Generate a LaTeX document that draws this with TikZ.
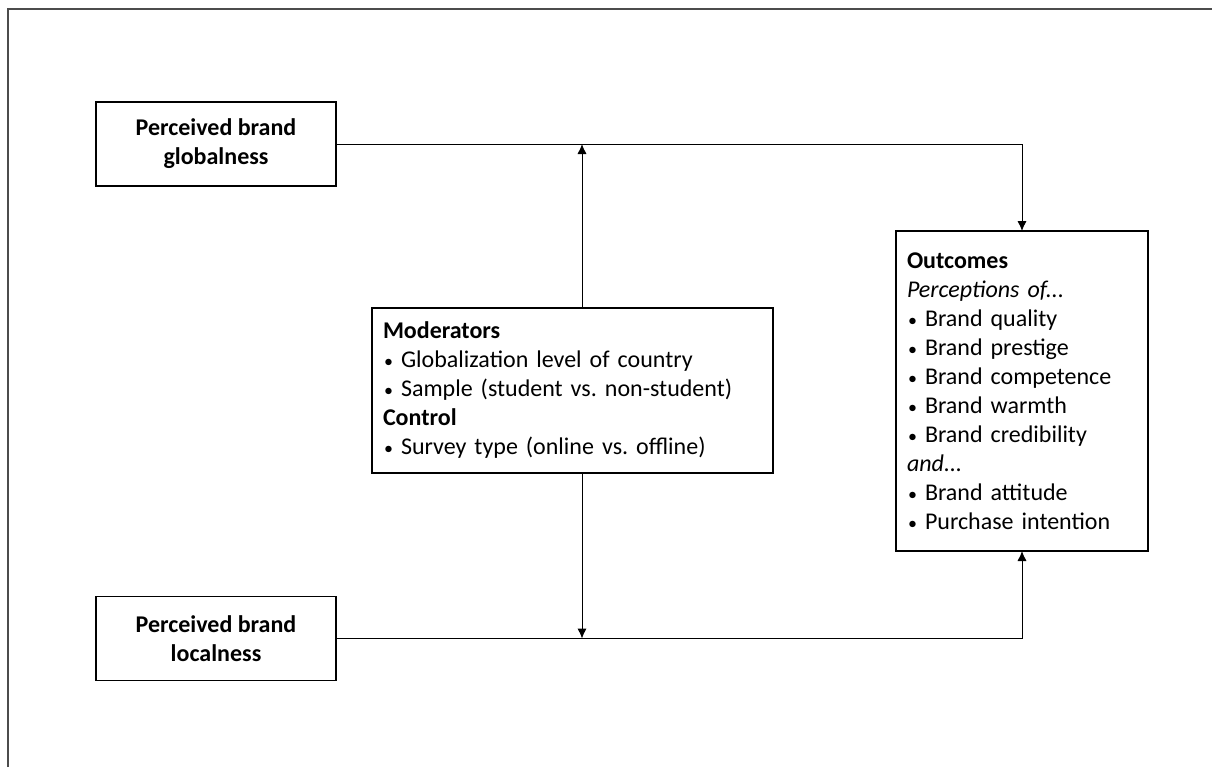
\documentclass[tikz,border=0pt]{standalone}
\usepackage{fontspec}
\setmainfont{Carlito}
\usetikzlibrary{arrows.meta}
\newcommand{\bul}{\makebox[9pt][l]{\hspace{0.6pt}\scalebox{0.75}{\textbullet}}}
\frenchspacing

\begin{document}
\begin{tikzpicture}[x=0.5pt, y=-0.5pt,
  every node/.style={font=\fontsize{12}{14.5}\selectfont, outer sep=0pt},
  varbox/.style={draw, line width=0.6pt, align=center, font=\fontsize{12}{14.5}\selectfont\bfseries, minimum width=120pt, minimum height=42pt},
  listbox/.style={draw, line width=0.6pt, align=left, inner xsep=5.5pt},
  arr/.style={-{Latex[length=5pt,width=4.6pt]}, line width=0.5pt}]
\useasboundingbox (0,0) rectangle (1212,767);
\draw[line width=0.8pt, black!70] (8,767) -- (8,9) -- (1212,9);

\node[varbox] (glob) at (216,144) {Perceived brand\\globalness};
\node[varbox] (loc) at (216,638.5) {Perceived brand\\localness};

\node[listbox, text width=189.5pt, minimum height=82.5pt] (mod) at (572.5,390.5) {\textbf{Moderators}\\
\bul Globalization level of country\\
\bul Sample (student vs. non-student)\\
\textbf{Control}\\
\bul Survey type (online vs. offline)};

\node[listbox, text width=115pt, minimum height=160pt] (out) at (1022,391) {\textbf{Outcomes}\\
\textit{Perceptions of...}\\
\bul Brand quality\\
\bul Brand prestige\\
\bul Brand competence\\
\bul Brand warmth\\
\bul Brand credibility\\
\textit{and...}\\
\bul Brand attitude\\
\bul Purchase intention};

\coordinate (gj) at (582,144);
\coordinate (lj) at (582,638.5);
\draw[arr] (glob.east) -| (out.north);
\draw[arr] (loc.east) -| (out.south);
\draw[arr] (mod.north -| gj) -- (gj);
\draw[arr] (mod.south -| lj) -- (lj);
\end{tikzpicture}
\end{document}
